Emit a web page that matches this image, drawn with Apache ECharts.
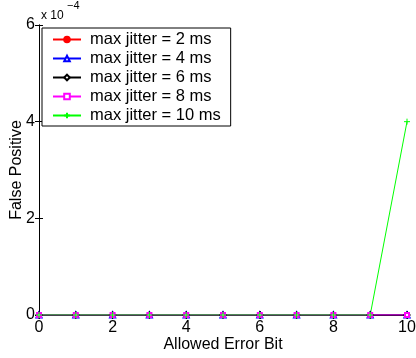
<!DOCTYPE html>
<html>
<head>
<meta charset="utf-8">
<script src="https://cdn.jsdelivr.net/npm/echarts@6/dist/echarts.min.js"></script>
<style>
  html, body { margin: 0; padding: 0; background: #fff; }
  #chart { width: 416px; height: 358px; }
</style>
</head>
<body>
<div id="chart"></div>
<script>
const errorBits = [0, 1, 2, 3, 4, 5, 6, 7, 8, 9, 10];
const seriesNames = ['max jitter = 2 ms', 'max jitter = 4 ms', 'max jitter = 6 ms', 'max jitter = 8 ms', 'max jitter = 10 ms'];
const jitter2 = [0, 0, 0, 0, 0, 0, 0, 0, 0, 0, 0];
const jitter4 = [0, 0, 0, 0, 0, 0, 0, 0, 0, 0, 0];
const jitter6 = [0, 0, 0, 0, 0, 0, 0, 0, 0, 0, 0];
const jitter8 = [0, 0, 0, 0, 0, 0, 0, 0, 0, 0, 0];
const jitter10 = [0, 0, 0, 0, 0, 0, 0, 0, 0, 0, 0.0004];

const font = 'Liberation Sans, Arial, Helvetica, sans-serif';
const plusPath = 'path://M5,0L5,10M0,5L10,5';

function pairs(values) {
    return errorBits.map((x, i) => [x, values[i]]);
}

function lineSeries(name, values, color, symbol, size) {
    return {
        name: name,
        type: 'line',
        data: pairs(values),
        symbol: symbol,
        symbolSize: size,
        showSymbol: true,
        animation: false,
        lineStyle: { color: color, width: 1 },
        itemStyle: { color: color, borderColor: color, borderWidth: 1 },
        emphasis: { disabled: true }
    };
}

const chart = echarts.init(document.getElementById('chart'));

const xBase = {
    type: 'value',
    min: 0,
    max: 10,
    interval: 2,
    splitLine: { show: false },
    axisLine: { show: true, lineStyle: { color: '#000', width: 1 } },
    axisTick: { show: true, inside: true, length: 4, lineStyle: { color: '#000' } }
};
const yBase = {
    type: 'value',
    min: 0,
    max: 0.0006,
    interval: 0.0002,
    splitLine: { show: false },
    axisLine: { show: true, lineStyle: { color: '#000', width: 1 } },
    axisTick: { show: true, inside: true, length: 4, lineStyle: { color: '#000' } }
};

chart.setOption({
    backgroundColor: '#fff',
    textStyle: { fontFamily: font },
    grid: { left: 39, right: 9, top: 25, bottom: 43, containLabel: false, outerBoundsMode: 'none' },
    xAxis: [
        Object.assign({}, xBase, {
            position: 'bottom',
            name: 'Allowed Error Bit',
            nameLocation: 'middle',
            nameGap: 22,
            nameMoveOverlap: false,
            nameTextStyle: { fontSize: 16, color: '#000', fontFamily: font },
            axisLabel: { fontSize: 16, color: '#000', margin: 5, fontFamily: font }
        }),
        Object.assign({}, xBase, { position: 'top', axisLabel: { show: false } })
    ],
    yAxis: [
        Object.assign({}, yBase, {
            position: 'left',
            name: 'False Positive',
            nameLocation: 'middle',
            nameGap: 14,
            nameMoveOverlap: false,
            nameTextStyle: { fontSize: 16, color: '#000', fontFamily: font },
            axisLabel: {
                fontSize: 16, color: '#000', margin: 4, fontFamily: font,
                formatter: v => String(Math.round(v * 1e4))
            }
        }),
        Object.assign({}, yBase, { position: 'right', axisLabel: { show: false } })
    ],
    legend: {
        orient: 'vertical',
        left: 42,
        top: 28,
        padding: [3, 10, 2, 10],
        itemGap: 2,
        itemWidth: 28,
        itemHeight: 7,
        backgroundColor: '#fff',
        borderColor: '#000',
        borderWidth: 1,
        borderRadius: 0,
        selectedMode: false,
        textStyle: { fontSize: 16.5, color: '#000', fontFamily: font, padding: [0, 0, 0, 4] },
        data: seriesNames
    },
    graphic: [{
        type: 'text',
        left: 41,
        top: 10,
        style: { text: 'x 10', fontSize: 12, fontFamily: font, fill: '#000' }
    }, {
        type: 'text',
        left: 67,
        top: 0,
        style: { text: '−4', fontSize: 11, fontFamily: font, fill: '#000' }
    }],
    series: [
        lineSeries(seriesNames[0], jitter2, '#ff0000', 'circle', 4),
        lineSeries(seriesNames[1], jitter4, '#0000ff', 'emptyTriangle', 5),
        lineSeries(seriesNames[2], jitter6, '#000000', 'emptyDiamond', 5),
        lineSeries(seriesNames[3], jitter8, '#ff00ff', 'emptyRect', 4),
        lineSeries(seriesNames[4], jitter10, '#00ff00', plusPath, 6)
    ]
});
</script>
</body>
</html>
